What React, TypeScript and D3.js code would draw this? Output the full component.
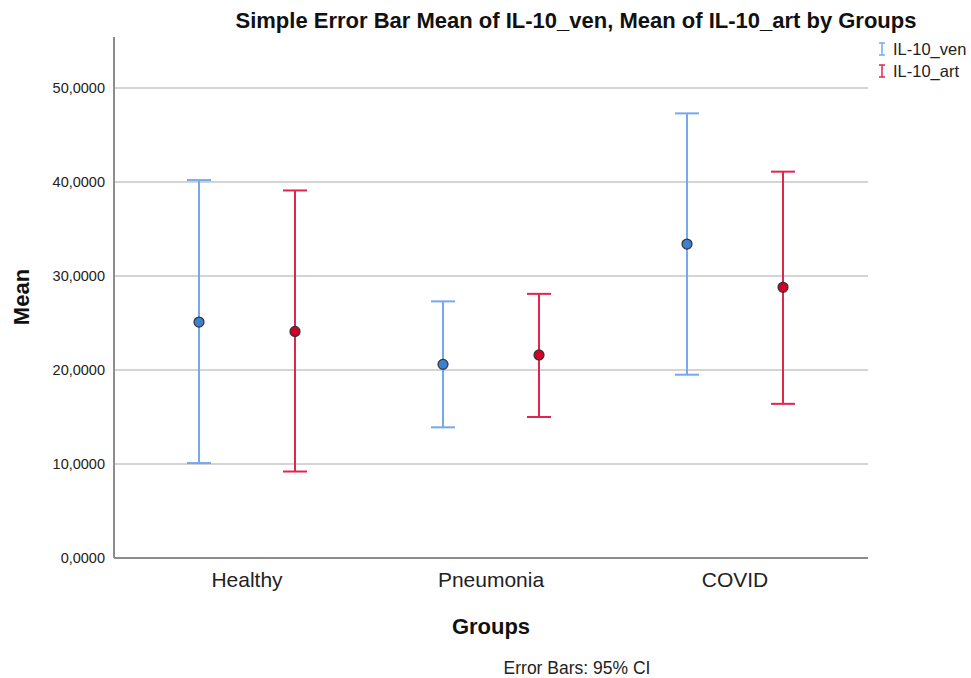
import React, { useEffect, useRef } from "react";
import * as d3 from "d3";

const groups = ["Healthy", "Pneumonia", "COVID"];
const seriesNames = ["IL-10_ven", "IL-10_art"];
const seriesColors = ["#74a9ea", "#e0264f"];
const dotColors = ["#3f7fd0", "#d20028"];
// mean, lower CI, upper CI per group
const venMean = [25.1, 20.6, 33.4];
const venLow = [10.1, 13.9, 19.5];
const venHigh = [40.2, 27.3, 47.3];
const artMean = [24.1, 21.6, 28.8];
const artLow = [9.2, 15.0, 16.4];
const artHigh = [39.1, 28.1, 41.1];
const yTicks = [0, 10, 20, 30, 40, 50];

const App: React.FC = () => {
  const svgRef = useRef<SVGSVGElement | null>(null);
  const width = 971;
  const height = 678;

  useEffect(() => {
    const svg = d3.select(svgRef.current);
    svg.selectAll("*").remove();
    const font = "'Liberation Sans', Arial, sans-serif";

    const left = 114;
    const right = 868;
    const bottom = 558;
    const top = 37;

    const y = d3.scaleLinear().domain([0, 50]).range([bottom, 88]);
    const x = d3.scalePoint<string>().domain(groups).range([247, 735]);
    const offset = 48;

    // gridlines
    svg.append("g")
      .selectAll("line")
      .data(yTicks.filter((t) => t > 0))
      .enter()
      .append("line")
      .attr("x1", left)
      .attr("x2", right)
      .attr("y1", (d) => y(d))
      .attr("y2", (d) => y(d))
      .attr("stroke", "#c6c6c6")
      .attr("stroke-width", 1.5);

    // axes lines
    svg.append("line").attr("x1", left).attr("x2", left).attr("y1", top).attr("y2", bottom)
      .attr("stroke", "#8c8c8c").attr("stroke-width", 2);
    svg.append("line").attr("x1", left).attr("x2", right).attr("y1", bottom).attr("y2", bottom)
      .attr("stroke", "#8c8c8c").attr("stroke-width", 2);

    // y tick labels
    svg.append("g")
      .selectAll("text")
      .data(yTicks)
      .enter()
      .append("text")
      .attr("x", 105)
      .attr("y", (d) => y(d) + 5)
      .attr("text-anchor", "end")
      .attr("font-family", font)
      .attr("font-size", 14.5)
      .attr("fill", "#222")
      .text((d) => d3.format(".4f")(d).replace(".", ","));

    // category labels
    svg.append("g")
      .selectAll("text")
      .data(groups)
      .enter()
      .append("text")
      .attr("x", (d) => x(d)!)
      .attr("y", 587)
      .attr("text-anchor", "middle")
      .attr("font-family", font)
      .attr("font-size", 21)
      .attr("fill", "#222")
      .text((d) => d);

    const series = [
      { mean: venMean, low: venLow, high: venHigh },
      { mean: artMean, low: artLow, high: artHigh },
    ];

    series.forEach((s, i) => {
      const color = seriesColors[i];
      const dx = i === 0 ? -offset : offset;
      groups.forEach((gname, j) => {
        const cx = x(gname)! + dx;
        const g = svg.append("g");
        g.append("line").attr("x1", cx).attr("x2", cx)
          .attr("y1", y(s.low[j])).attr("y2", y(s.high[j]))
          .attr("stroke", color).attr("stroke-width", 2);
        [s.low[j], s.high[j]].forEach((v) => {
          g.append("line").attr("x1", cx - 12).attr("x2", cx + 12)
            .attr("y1", y(v)).attr("y2", y(v))
            .attr("stroke", color).attr("stroke-width", 2);
        });
        g.append("circle").attr("cx", cx).attr("cy", y(s.mean[j])).attr("r", 5)
          .attr("fill", dotColors[i]).attr("stroke", "#333").attr("stroke-width", 1.2);
      });
    });

    // title
    svg.append("text")
      .attr("x", 576)
      .attr("y", 28)
      .attr("text-anchor", "middle")
      .attr("font-family", font)
      .attr("font-size", 22)
      .attr("font-weight", "bold")
      .attr("fill", "#111")
      .text("Simple Error Bar Mean of IL-10_ven, Mean of IL-10_art by Groups");

    // axis titles
    svg.append("text")
      .attr("transform", `translate(29,297) rotate(-90)`)
      .attr("text-anchor", "middle")
      .attr("font-family", font)
      .attr("font-size", 22)
      .attr("font-weight", "bold")
      .attr("fill", "#111")
      .text("Mean");

    svg.append("text")
      .attr("x", 491)
      .attr("y", 634)
      .attr("text-anchor", "middle")
      .attr("font-family", font)
      .attr("font-size", 22)
      .attr("font-weight", "bold")
      .attr("fill", "#111")
      .text("Groups");

    svg.append("text")
      .attr("x", 577)
      .attr("y", 674)
      .attr("text-anchor", "middle")
      .attr("font-family", font)
      .attr("font-size", 17.5)
      .attr("fill", "#222")
      .text("Error Bars: 95% CI");

    // legend
    seriesNames.forEach((name, i) => {
      const ly = 49 + i * 22;
      const lg = svg.append("g");
      const c = seriesColors[i];
      lg.append("line").attr("x1", 882).attr("x2", 882).attr("y1", ly - 6).attr("y2", ly + 6)
        .attr("stroke", c).attr("stroke-width", 1.5);
      lg.append("line").attr("x1", 879).attr("x2", 885).attr("y1", ly - 6).attr("y2", ly - 6)
        .attr("stroke", c).attr("stroke-width", 1.5);
      lg.append("line").attr("x1", 879).attr("x2", 885).attr("y1", ly + 6).attr("y2", ly + 6)
        .attr("stroke", c).attr("stroke-width", 1.5);
      lg.append("text")
        .attr("x", 893)
        .attr("y", ly + 6)
        .attr("font-family", font)
        .attr("font-size", 16.5)
        .attr("fill", "#222")
        .text(name);
    });
  }, []);

  return (
    <svg
      ref={svgRef}
      width={width}
      height={height}
      style={{ position: "absolute", left: 0, top: 0, background: "white" }}
    />
  );
};

export default App;
